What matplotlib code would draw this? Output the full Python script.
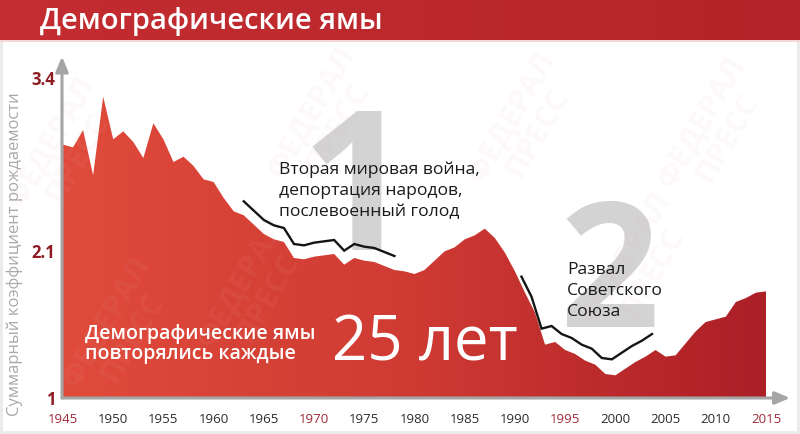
import numpy as np
import matplotlib
matplotlib.use('Agg')
import matplotlib.pyplot as plt
from matplotlib.colors import LinearSegmentedColormap
from matplotlib.patches import Rectangle

# ---------------- data ----------------
years = list(range(1945, 2016))
tfr = [2.90, 2.88, 3.01, 2.67, 3.26, 2.94, 3.00, 2.92, 2.80, 3.06,
       2.94, 2.77, 2.81, 2.74, 2.64, 2.62, 2.50, 2.40, 2.37, 2.30,
       2.23, 2.19, 2.17, 2.05, 2.04, 2.06, 2.07, 2.08, 2.00, 2.05,
       2.03, 2.02, 1.99, 1.96, 1.95, 1.93, 1.96, 2.03, 2.10, 2.13,
       2.19, 2.22, 2.27, 2.20, 2.09, 1.95, 1.79, 1.64, 1.40, 1.42,
       1.36, 1.33, 1.28, 1.25, 1.18, 1.17, 1.22, 1.27, 1.31, 1.36,
       1.31, 1.32, 1.41, 1.50, 1.57, 1.59, 1.61, 1.72, 1.75, 1.79, 1.80]

ww2_span = (1963, 1978)
ussr_span = (1991, 2004)

x_ticks = list(range(1945, 2016, 5))
x_red_ticks = [1945, 1970, 1995, 2015]
y_ticks = [1, 2.1, 3.4]
y_tick_labels = ['1', '2.1', '3.4']

title = 'Демографические ямы'
y_label = 'Суммарный коэффициент рождаемости'
note1 = 'Вторая мировая война,\nдепортация народов,\nпослевоенный голод'
note2 = 'Развал\nСоветского\nСоюза'
bottom_text = 'Демографические ямы\nповторялись каждые'
big_text = '25 лет'
watermark = 'ФЕДЕРАЛ\nПРЕСС'

# ---------------- figure ----------------
W, H = 800, 434
FONT = ['Open Sans', 'DejaVu Sans']
plt.rcParams['font.family'] = FONT

fig = plt.figure(figsize=(W / 100, H / 100), dpi=100, facecolor='#ebebeb')


def fx(px):
    return px / W


def fy(py):
    return 1 - py / H


# white panel
fig.add_artist(Rectangle((fx(3), fy(431)), fx(794), (431 - 40) / H,
                         transform=fig.transFigure, facecolor='white',
                         edgecolor='none', zorder=-5))

# title band
tb = fig.add_axes([0, fy(40), 1, 40 / H])
tb.imshow(np.linspace(0, 1, 256).reshape(1, -1), aspect='auto',
          cmap=LinearSegmentedColormap.from_list('t', ['#c42d31', '#b3252a']),
          extent=[0, 1, 0, 1])
tb.set_axis_off()
fig.add_artist(Rectangle((0, fy(42)), 1, 2 / H, transform=fig.transFigure,
                         facecolor='#f6d6d6', edgecolor='none'))
fig.text(fx(40), fy(21), title, color='white', fontsize=21,
         fontweight='semibold', va='center', ha='left')

# main axes
left_px, right_px, top_px, bot_px = 62, 790, 60, 398
ax = fig.add_axes([fx(left_px), fy(bot_px), (right_px - left_px) / W,
                   (bot_px - top_px) / H])
ax.patch.set_visible(False)
px_per_year = (766 - 63) / 70
px_per_unit = (398 - 78) / 2.4
xlim = (1945 - (63 - left_px) / px_per_year, 1945 + (right_px - 63) / px_per_year)
ylim = (1, 1 + (bot_px - top_px) / px_per_unit)

# gradient-filled area
poly = ax.fill_between(years, tfr, 1, facecolor='none', edgecolor='none')
cmap = LinearSegmentedColormap.from_list('r', ['#e04b3b', '#cf3a33', '#ac1f27'])
im = ax.imshow(np.linspace(0, 1, 256).reshape(1, -1), aspect='auto', cmap=cmap,
               extent=[years[0], years[-1], 1, max(tfr)], zorder=2)
im.set_clip_path(poly.get_paths()[0], transform=ax.transData)


# black offset lines above the dips
def dip_line(span, dy, dx):
    i0, i1 = years.index(span[0]), years.index(span[1])
    xs = [y + dx for y in years[i0:i1 + 1]]
    ys = [v + dy for v in tfr[i0:i1 + 1]]
    ax.plot(xs, ys, color='#151515', lw=1.7, zorder=4, solid_joinstyle='miter')


dip_line(ww2_span, 0.105, 0.0)
dip_line(ussr_span, 0.12, -0.35)

# big gray numbers behind
ax.text(fx(356), fy(250), '1', transform=fig.transFigure, fontsize=140,
        fontweight='bold', color='#d3d3d3', ha='center', va='baseline', zorder=1)
ax.text(fx(609), fy(327), '2', transform=fig.transFigure, fontsize=126,
        fontweight='bold', color='#d3d3d3', ha='center', va='baseline', zorder=1)

# faint watermarks
for (wx, wy) in [(65, 150), (325, 120), (525, 125), (715, 130),
                 (255, 290), (640, 265), (120, 330)]:
    ax.text(fx(wx), fy(wy), watermark, transform=fig.transFigure, fontsize=22,
            fontweight='bold', color='#e9b0b0', alpha=0.08, rotation=60,
            ha='center', va='center', linespacing=1.0, zorder=2.5)

ax.set_xlim(*xlim)
ax.set_ylim(*ylim)

for s in ax.spines.values():
    s.set_visible(False)

# axis arrows
arrow_kw = dict(arrowstyle='-|>,head_length=0.9,head_width=0.38', color='#a5a5a5',
                lw=2.2, shrinkA=0, shrinkB=0)
ax.annotate('', xy=(1, 0), xytext=(0, 0), xycoords='axes fraction',
            arrowprops=arrow_kw, annotation_clip=False, zorder=3)
ax.annotate('', xy=(0, 1.01), xytext=(0, 0), xycoords='axes fraction',
            arrowprops=arrow_kw, annotation_clip=False, zorder=3)

# ticks
ax.set_xticks(x_ticks)
ax.set_xticklabels([str(t) for t in x_ticks], fontsize=9.5)
for t, lab in zip(x_ticks, ax.get_xticklabels()):
    lab.set_color('#9e2a36' if t in x_red_ticks else '#2b2b2b')
ax.set_yticks(y_ticks)
ax.set_yticklabels(y_tick_labels, fontsize=12, fontweight='bold', color='#8e1c22')
ax.tick_params(axis='both', length=0)
ax.tick_params(axis='x', pad=11)
ax.tick_params(axis='y', pad=5)

fig.text(fx(15), fy(254), y_label, rotation=90, color='#a9a9a9', fontsize=12,
         ha='center', va='center')

# annotations
fig.text(fx(279), fy(191), note1, fontsize=12.6, color='#1a1a1a', ha='left',
         va='center', linespacing=1.42, zorder=5)
fig.text(fx(567), fy(291), note2, fontsize=12.6, color='#1a1a1a', ha='left',
         va='center', linespacing=1.42, zorder=5)

fig.text(fx(85), fy(344), bottom_text, fontsize=14, color='white',
         fontweight='semibold', ha='left', va='center', linespacing=1.05, zorder=5)
fig.text(fx(332), fy(344), big_text, fontsize=44.5, color='white',
         ha='left', va='center', zorder=5)

fig.savefig('out.png', dpi=100, facecolor=fig.get_facecolor())
